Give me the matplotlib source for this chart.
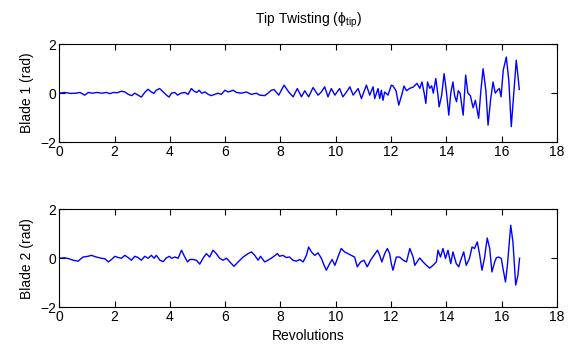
import matplotlib
matplotlib.use("Agg")
import matplotlib.pyplot as plt

plt.rcParams['font.family'] = ['Liberation Sans', 'DejaVu Sans']
plt.rcParams['mathtext.fontset'] = 'custom'
plt.rcParams['mathtext.rm'] = 'Liberation Sans'

# values
rev1 = [0.00, 0.20, 0.40, 0.60, 0.75, 0.92, 1.05, 1.20, 1.35, 1.55, 1.70, 1.83, 1.95, 2.10,
        2.25, 2.37, 2.50, 2.62, 2.73, 2.85, 2.97, 3.09, 3.21, 3.33, 3.42, 3.51, 3.63, 3.76,
        3.88, 3.97, 4.06, 4.18, 4.28, 4.40, 4.55, 4.66, 4.78, 4.88, 4.97, 5.06, 5.15, 5.27,
        5.39, 5.50, 5.62, 5.74, 5.86, 5.99, 6.11, 6.29, 6.41, 6.59, 6.77, 6.95, 7.13, 7.25,
        7.43, 7.55, 7.67, 7.77, 7.94, 8.13, 8.30, 8.46, 8.61, 8.76, 8.88, 9.02, 9.18, 9.36,
        9.48, 9.60, 9.72, 9.84, 9.97, 10.14, 10.26, 10.39, 10.51, 10.63, 10.81, 10.93, 11.11,
        11.23, 11.35, 11.41, 11.53, 11.59, 11.65, 11.71, 11.77, 11.89, 12.01, 12.07, 12.18,
        12.28, 12.38, 12.47, 12.56, 12.68, 12.80, 12.94, 13.04, 13.12, 13.20, 13.26, 13.32,
        13.40, 13.47, 13.53, 13.62, 13.70, 13.74, 13.83, 13.92, 14.00, 14.09, 14.16, 14.24,
        14.30, 14.37, 14.43, 14.50, 14.61, 14.70, 14.78, 14.87, 14.97, 15.05, 15.17, 15.25,
        15.33, 15.43, 15.51, 15.60, 15.69, 15.77, 15.85, 15.92, 15.98, 16.06, 16.17, 16.26,
        16.35, 16.44, 16.53, 16.59, 16.64]
blade1 = [0.00, 0.03, -0.01, 0.00, 0.03, -0.08, 0.03, 0.00, 0.03, 0.00, 0.03, -0.02, 0.03, 0.02,
          0.08, 0.05, -0.05, -0.10, 0.00, -0.08, -0.16, 0.03, 0.16, 0.05, -0.01, 0.12, 0.19, 0.05,
          -0.08, -0.16, 0.00, 0.03, -0.08, 0.00, 0.03, -0.05, 0.19, 0.08, 0.03, 0.12, 0.00, 0.05,
          -0.05, -0.10, -0.05, 0.00, -0.05, 0.12, 0.05, 0.12, 0.03, 0.00, 0.05, -0.05, 0.00, -0.08,
          -0.10, 0.00, 0.12, 0.15, -0.08, 0.33, 0.05, -0.15, 0.19, -0.15, 0.10, -0.15, 0.23, -0.08,
          0.05, 0.26, -0.15, 0.19, -0.08, 0.19, -0.15, 0.05, 0.26, -0.08, 0.19, -0.22, 0.33,
          -0.08, 0.26, -0.22, 0.19, -0.22, 0.12, -0.29, 0.05, -0.08, 0.33, 0.30, 0.10,
          -0.49, -0.10, 0.29, 0.10, 0.20, 0.25, 0.40, 0.20, 0.46, 0.00, -0.42, 0.46,
          0.20, 0.30, 0.00, 0.60, -0.10, -0.56, -0.10, 0.80, 0.10, -0.90, 0.00, 0.46,
          -0.10, -0.35, 0.10, 0.00, -0.90, 0.74, 0.00, -0.10, -0.60, -0.29, -1.03, 0.10,
          1.00, 0.12, -1.31, -0.29, 0.46, 0.00, 0.12, 0.19, -0.15, 0.94, 1.48, 0.53,
          -1.37, 0.00, 1.35, 0.73, 0.15]

rev2 = [0.00, 0.20, 0.35, 0.50, 0.68, 0.86, 1.04, 1.16, 1.34, 1.52, 1.65, 1.77, 1.89, 2.01,
        2.13, 2.25, 2.37, 2.49, 2.61, 2.73, 2.85, 2.97, 3.09, 3.21, 3.33, 3.43, 3.51, 3.64,
        3.76, 3.86, 3.98, 4.06, 4.18, 4.30, 4.42, 4.54, 4.64, 4.72, 4.84, 4.96, 5.08, 5.20,
        5.32, 5.44, 5.56, 5.68, 5.80, 5.92, 6.05, 6.17, 6.32, 6.47, 6.65, 6.83, 6.95, 7.07,
        7.19, 7.28, 7.43, 7.55, 7.73, 7.89, 7.97, 8.09, 8.21, 8.33, 8.45, 8.57, 8.70, 8.82,
        8.94, 9.02, 9.12, 9.24, 9.36, 9.48, 9.58, 9.66, 9.78, 9.87, 9.97, 10.08, 10.20, 10.32,
        10.44, 10.56, 10.68, 10.78, 10.90, 11.02, 11.14, 11.26, 11.38, 11.51, 11.59, 11.67,
        11.77, 11.87, 11.95, 12.01, 12.07, 12.19, 12.31, 12.44, 12.56, 12.68, 12.80, 12.86,
        12.98, 13.04, 13.16, 13.28, 13.40, 13.52, 13.64, 13.70, 13.79, 13.88, 13.97, 14.06,
        14.16, 14.24, 14.36, 14.45, 14.52, 14.63, 14.72, 14.84, 14.93, 15.02, 15.12, 15.20,
        15.29, 15.38, 15.48, 15.57, 15.65, 15.75, 15.81, 15.89, 15.99, 16.05, 16.14, 16.21,
        16.33, 16.41, 16.51, 16.59, 16.65]
blade2 = [0.00, 0.02, -0.02, -0.08, -0.12, 0.05, 0.08, 0.12, 0.05, 0.00, -0.02, -0.15, -0.05, 0.08,
          0.03, 0.00, 0.12, 0.03, -0.08, 0.08, 0.03, -0.08, 0.08, 0.00, 0.12, 0.00, 0.12, -0.08,
          -0.14, 0.00, 0.08, 0.00, 0.05, 0.00, 0.33, 0.05, -0.15, -0.05, -0.05, -0.08, -0.24, 0.00,
          0.19, 0.05, 0.33, 0.19, 0.00, -0.08, 0.00, -0.15, -0.33, -0.15, 0.05, 0.19, 0.26, 0.12,
          -0.08, 0.08, -0.15, -0.08, 0.05, 0.19, 0.08, 0.12, 0.03, 0.05, -0.08, -0.12, -0.05, -0.15,
          0.12, 0.46, 0.26, 0.12, 0.22, 0.00, -0.29, -0.49, -0.22, -0.05, -0.29, 0.05, 0.40, 0.26,
          0.19, 0.12, 0.05, -0.35, -0.15, -0.08, -0.35, -0.08, 0.12, 0.33, 0.12, -0.15,
          0.19, 0.40, 0.19, -0.22, -0.49, 0.05, 0.05, -0.08, -0.15, 0.40, 0.05, -0.29,
          -0.08, 0.01, -0.15, -0.29, -0.40, -0.29, -0.15, 0.33, 0.05, 0.40, -0.01, 0.33,
          -0.22, 0.26, -0.22, -0.35, -0.08, 0.26, -0.29, 0.00, 0.46, 0.40, 0.67, 0.19,
          -0.49, 0.00, 0.83, 0.40, -0.56, -0.15, 0.02, 0.05, -0.01, -0.42, -0.97, -0.29,
          1.35, 0.67, -1.10, -0.70, 0.00]

xticks = [0, 2, 4, 6, 8, 10, 12, 14, 16, 18]
yticks = [-2, 0, 2]

fig = plt.figure(figsize=(5.7, 3.49), dpi=100)
ax1 = fig.add_axes([0.104, 0.593, 0.873, 0.280])
ax2 = fig.add_axes([0.104, 0.120, 0.873, 0.280])

for ax, x, y, lab in [(ax1, rev1, blade1, 'Blade 1 (rad)'), (ax2, rev2, blade2, 'Blade 2 (rad)')]:
    ax.plot(x, y, color='#0000ff', linewidth=1.0)
    ax.set_xlim(0, 18)
    ax.set_ylim(-2, 2)
    ax.set_xticks(xticks)
    ax.set_yticks(yticks)
    ax.tick_params(direction='in', length=4, width=0.8, top=True, right=True,
                   labelsize=10, pad=2)
    ax.set_ylabel(lab, fontsize=10, labelpad=5)
    for s in ax.spines.values():
        s.set_linewidth(0.8)

ax1.set_title(r'Tip Twisting ($\mathregular{\phi_{tip}}$)', fontsize=10, pad=15)
ax2.set_xlabel('Revolutions', fontsize=10, labelpad=4)

fig.savefig('out.png', dpi=100)
